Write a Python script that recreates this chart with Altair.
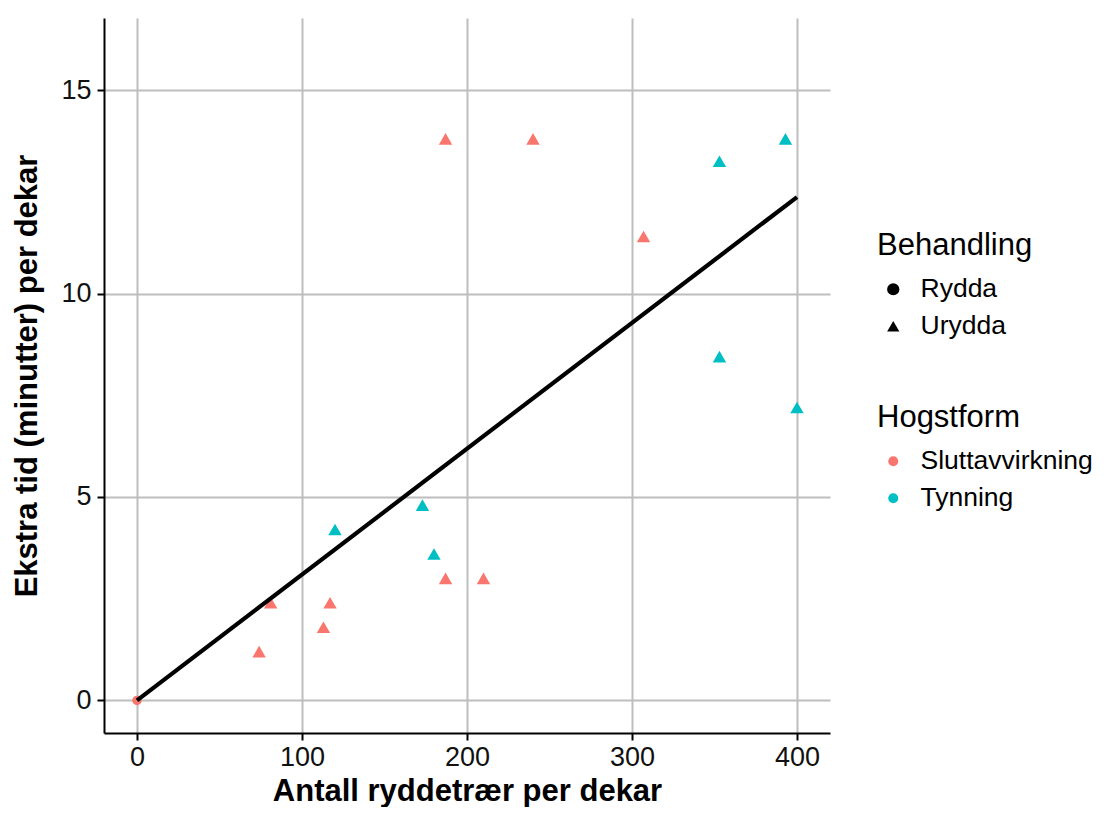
import altair as alt
import pandas as pd

# Data
trees = [0, 74, 81, 113, 117, 187, 210, 187, 240, 307,
         120, 173, 180, 353, 393, 353, 400]
extra_time = [0.0, 1.2, 2.4, 1.8, 2.4, 3.0, 3.0, 13.8, 13.8, 11.4,
              4.2, 4.8, 3.6, 13.25, 13.8, 8.45, 7.2]
behandling = ["Rydda"] + ["Urydda"] * 16
hogstform = ["Sluttavvirkning"] * 10 + ["Tynning"] * 7

fit_x = [0, 400]
fit_y = [0.0, 12.37]

x_ticks = [0, 100, 200, 300, 400]
y_ticks = [0, 5, 10, 15]

df = pd.DataFrame({"trees": trees, "time": extra_time,
                   "Behandling": behandling, "Hogstform": hogstform})
fit = pd.DataFrame({"trees": fit_x, "time": fit_y})

FONT = "Liberation Sans"
xscale = alt.Scale(domain=[-20, 420], nice=False, zero=False)
yscale = alt.Scale(domain=[-0.8, 16.77], nice=False, zero=False)

x_axis = alt.Axis(values=x_ticks, title="Antall ryddetrær per dekar",
                  titleX=363, titleY=67, titleBaseline="alphabetic")
y_axis = alt.Axis(values=y_ticks, title="Ekstra tid (minutter) per dekar",
                  titleX=-68, titleY=357.5, titleAngle=270,
                  titleBaseline="alphabetic", titleAlign="center")

points = alt.Chart(df).mark_point(filled=True, opacity=1).encode(
    x=alt.X("trees:Q", scale=xscale, axis=x_axis),
    y=alt.Y("time:Q", scale=yscale, axis=y_axis),
    shape=alt.Shape("Behandling:N",
                    scale=alt.Scale(domain=["Rydda", "Urydda"],
                                    range=["circle", "triangle-up"]),
                    legend=alt.Legend(orient="none", legendX=773, legendY=213,
                                      symbolFillColor="black",
                                      symbolStrokeColor="black",
                                      symbolStrokeWidth=0, symbolSize=150)),
    color=alt.Color("Hogstform:N",
                    scale=alt.Scale(domain=["Sluttavvirkning", "Tynning"],
                                    range=["#F8766D", "#00BFC4"]),
                    legend=alt.Legend(orient="none", legendX=773, legendY=385,
                                      symbolType="circle",
                                      symbolStrokeWidth=0, symbolSize=100)),
    size=alt.condition(alt.datum.Behandling == "Rydda",
                       alt.value(90), alt.value(180)),
)

line = alt.Chart(fit).mark_line(color="black", strokeWidth=4.2).encode(
    x=alt.X("trees:Q", scale=xscale),
    y=alt.Y("time:Q", scale=yscale),
)

chart = alt.layer(points, line).properties(
    width=726, height=715,
    autosize=alt.AutoSizeParams(type="none"),
    padding={"left": 96, "top": 10, "right": 266, "bottom": 74},
).configure_view(
    stroke=None
).configure_axis(
    domainColor="black", domainWidth=2,
    tickColor="black", tickWidth=2, tickSize=7,
    gridColor="#BEBEBE", gridWidth=2,
    labelFont=FONT, labelFontSize=27, labelColor="#111111", labelPadding=4,
    titleFont=FONT, titleFontSize=31, titleFontWeight="bold", titleColor="black",
).configure_axisY(
    labelPadding=6
).configure_legend(
    titleFont=FONT, titleFontSize=31, titleFontWeight="normal", titleColor="black",
    labelFont=FONT, labelFontSize=26.5, labelColor="black", labelLimit=400,
    labelOffset=14, symbolOffset=3, rowPadding=10, titlePadding=14, padding=0,
)

chart.save("out.html", embed_options={"renderer": "svg", "actions": False})
